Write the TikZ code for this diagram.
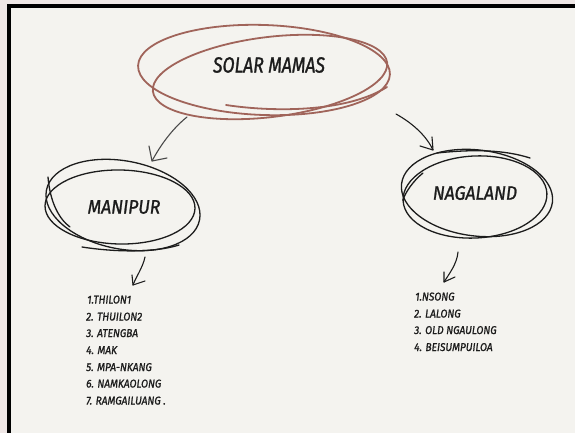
\documentclass[tikz,border=0pt]{standalone}
\usepackage{fontspec}
\newfontfamily\hand[FakeStretch=0.8,FakeBold=1.2]{Fira Sans}
\newfontfamily\handw[FakeStretch=0.9,FakeBold=1.2]{Fira Sans}
\usetikzlibrary{calc}
\definecolor{paper}{HTML}{F4F3EF}
\definecolor{outside}{HTML}{EFE7E6}
\definecolor{loopbrown}{HTML}{A0645A}
\definecolor{ink}{HTML}{1C1C1C}
\definecolor{grayink}{HTML}{4A4A4A}
\tikzset{
  loopb/.style={draw=loopbrown, line width=1.8pt, line cap=round},
  loopk/.style={draw=ink, line width=1.3pt, line cap=round},
  handarrow/.style={line width=1.1pt, line cap=round, line join=round},
  title/.style={font=\hand\itshape\fontsize{22}{22}\selectfont, text=ink, inner sep=0pt},
  region/.style={font=\handw\itshape\fontsize{19.5}{19.5}\selectfont, text=ink, inner sep=0pt},
  item/.style={font=\handw\itshape\fontsize{11.3}{11.3}\selectfont, text=ink, inner sep=0pt, anchor=base west},
}
\begin{document}
\begin{tikzpicture}[x=1pt,y=-1pt]
\useasboundingbox (0,0) rectangle (575,433);
\fill[outside] (0,0) rectangle (575,433);
\fill[black] (7,4) rectangle (575,433);
\fill[paper] (10.5,8) rectangle (575,433);

% title
\node[title] (solar) at (269,65) {SOLAR MAMAS};
\draw[loopb, rotate around={-2:(264,70)}] (264,70) ellipse [x radius=126, y radius=45];
\draw[loopb, rotate around={7:(270,77)}] (270,77) ellipse [x radius=118, y radius=40];
\draw[loopb] ($(solar)+(-43,40)$) .. controls ($(solar)+(10,48)$) and ($(solar)+(80,46)$) .. ($(solar)+(118,22)$);

% regions
\node[region] (manipur) at (124,207) {MANIPUR};
\draw[loopk, rotate around={-11:(123,205)}] (123,205) ellipse [x radius=78, y radius=44];
\draw[loopk, rotate around={-1:(120,207)}] (120,207) ellipse [x radius=75, y radius=37];
\draw[loopk] ($(manipur)+(-76,-30)$) .. controls ($(manipur)+(-74,-5)$) and ($(manipur)+(-65,12)$) .. ($(manipur)+(-54,20)$);
\draw[loopk] ($(manipur)+(-42,40)$) .. controls ($(manipur)+(-10,45)$) and ($(manipur)+(30,46)$) .. ($(manipur)+(55,38)$);

\node[region] (nagaland) at (475,193) {NAGALAND};
\draw[loopk, rotate around={-7:(477,193)}] (477,193) ellipse [x radius=76, y radius=43];
\draw[loopk, rotate around={3:(475,197)}] (475,197) ellipse [x radius=72, y radius=41];
\draw[loopk] ($(nagaland)+(-52,-20)$) .. controls ($(nagaland)+(-62,-12)$) and ($(nagaland)+(-70,0)$) .. ($(nagaland)+(-72,7)$);
\draw[loopk] ($(nagaland)+(-38,-40)$) .. controls ($(nagaland)+(0,-44)$) and ($(nagaland)+(30,-43)$) .. ($(nagaland)+(55,-35)$);

% arrows
\coordinate (a1s) at ($(solar)+(-82,52)$);
\coordinate (a1t) at ($(manipur)+(28,-46)$);
\draw[handarrow, draw=grayink] (a1s) .. controls ($(a1s)+(-15,12)$) and ($(a1t)+(8,-15)$) .. (a1t);
\draw[handarrow, draw=grayink] ($(a1t)+(-3,-15)$) -- (a1t) -- ($(a1t)+(15,-3)$);

\coordinate (a2s) at ($(solar)+(127,49)$);
\coordinate (a2t) at ($(nagaland)+(-42,-43)$);
\draw[handarrow, draw=ink] (a2s) .. controls ($(a2s)+(18,10)$) and ($(a2t)+(-6,-13)$) .. (a2t);
\draw[handarrow, draw=ink] ($(a2t)+(-1,-13)$) -- (a2t) -- ($(a2t)+(-13,-4)$);

\coordinate (a3s) at ($(manipur)+(21,50)$);
\coordinate (a3t) at ($(manipur)+(9,78)$);
\draw[handarrow, draw=ink] (a3s) .. controls ($(a3s)+(-2,10)$) and ($(a3t)+(3,-8)$) .. (a3t);
\draw[handarrow, draw=ink] ($(a3t)+(-1,-10)$) -- (a3t) -- ($(a3t)+(12,-4)$);

\coordinate (a4s) at ($(nagaland)+(-17,59)$);
\coordinate (a4t) at ($(nagaland)+(-31,89)$);
\draw[handarrow, draw=ink] (a4s) .. controls ($(a4s)+(-1,12)$) and ($(a4t)+(5,-8)$) .. (a4t);
\draw[handarrow, draw=ink] ($(a4t)+(0,-10)$) -- (a4t) -- ($(a4t)+(11,-5)$);

% lists
\node[item] (m1) at (87,303.5) {1.THILON1};
\node[item] (m2) at (86,320.5) {2. THUILON2};
\node[item] (m3) at (86,337) {3. ATENGBA};
\node[item] (m4) at (86,354) {4. MAK};
\node[item] (m5) at (86,371) {5. MPA-NKANG};
\node[item] (m6) at (86,387.5) {6. NAMKAOLONG};
\node[item] (m7) at (86,404.5) {7. RAMGAILUANG .};

\node[item] (n1) at (415,300.5) {1.NSONG};
\node[item] (n2) at (414,317.5) {2. LALONG};
\node[item] (n3) at (414,334) {3. OLD NGAULONG};
\node[item] (n4) at (414,351) {4. BEISUMPUILOA};
\end{tikzpicture}
\end{document}
